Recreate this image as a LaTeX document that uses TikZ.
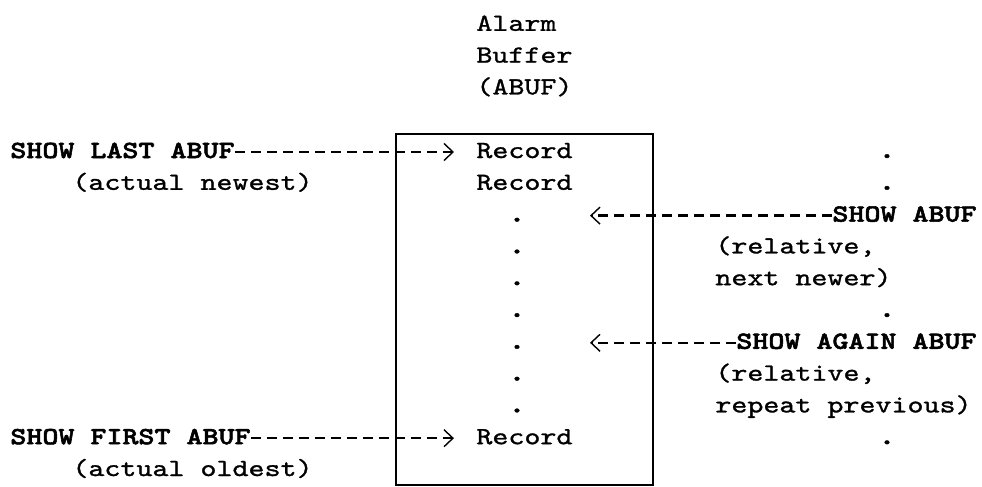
\documentclass[tikz,border=0pt]{standalone}
\usepackage{fontspec}
\setmonofont{lmmono10-regular.otf}[FakeStretch=1.24, FakeBold=1.2,
  BoldFont=lmmonolt10-bold.otf, BoldFeatures={FakeBold=2.2}]
\usepackage{tikz}
\usetikzlibrary{positioning, arrows.meta}

\begin{document}
\begin{tikzpicture}[x=0.5pt, y=-0.5pt,
  txt/.style={inner sep=0pt, anchor=base west,
              font=\ttfamily\fontsize{12.3}{15.9}\selectfont},
  cmd/.style={txt, font=\ttfamily\bfseries\fontsize{12.3}{15.9}\selectfont,
              text height=6pt, text depth=0pt},
  rec/.style={txt, text height=6pt, text depth=0pt},
  dotmark/.style={txt, anchor=base, font=\ttfamily\fontsize{15}{15.9}\selectfont},
  cmdarr/.style={dash pattern=on 5.2pt off 2.8pt, line width=1.2pt,
                 -{Straight Barb[length=4.5pt, width=8.5pt, line width=0.7pt]}},
  boxline/.style={line width=0.95pt}
]
  \useasboundingbox (0,0) rectangle (982,487);

  \node[txt] (alarmtxt)  at (476,30.8) {Alarm};
  \node[txt] (buffertxt) at (476,62.6) {Buffer};
  \node[txt] (abuftxt)   at (476,94.4) {(ABUF)};

  \draw[boxline] (396,134) rectangle (653,485);

  \node[rec] (newrec) at (476,158.0) {Record};
  \node[rec] (secrec) at (476,189.8) {Record};
  \node[rec] (oldrec) at (476,444.2) {Record};
  \foreach \r [count=\i] in {221.6, 253.4, 285.2, 317.0, 348.8, 380.6, 412.4}
    \node[dotmark] (bdot\i) at (517,\r) {.};

  \node[cmd] (lastcmd)  at (10,158.0) {SHOW LAST ABUF};
  \node[txt] (newestnote) at (72,189.8) {(actual newest)};
  \node[cmd] (firstcmd) at (10,444.2) {SHOW FIRST ABUF};
  \node[txt] (oldestnote) at (72,476.0) {(actual oldest)};

  \node[cmd, anchor=base east] (showcmd)  at (977,221.6) {SHOW ABUF};
  \node[txt] (relnote1)   at (715,253.4) {(relative,};
  \node[txt] (nextnote)   at (715,285.2) {next newer)};
  \node[cmd, anchor=base east] (againcmd) at (977,348.8) {SHOW AGAIN ABUF};
  \node[txt] (relnote2)   at (715,380.6) {(relative,};
  \node[txt] (repeatnote) at (715,412.4) {repeat previous)};
  \foreach \r/\n in {158.0/1, 189.8/2, 317.0/3, 444.2/4}
    \node[dotmark] (rdot\n) at (887,\r) {.};

  \coordinate (nextend)  at (590,215.6);
  \coordinate (againend) at (590,342.8);

  \draw[cmdarr, shorten >=11pt] (lastcmd.east)  -- (newrec.west);
  \draw[cmdarr, shorten >=11pt] (firstcmd.east) -- (oldrec.west);
  \draw[cmdarr] (showcmd.west)  -- (nextend);
  \draw[cmdarr] (againcmd.west) -- (againend);
\end{tikzpicture}
\end{document}
